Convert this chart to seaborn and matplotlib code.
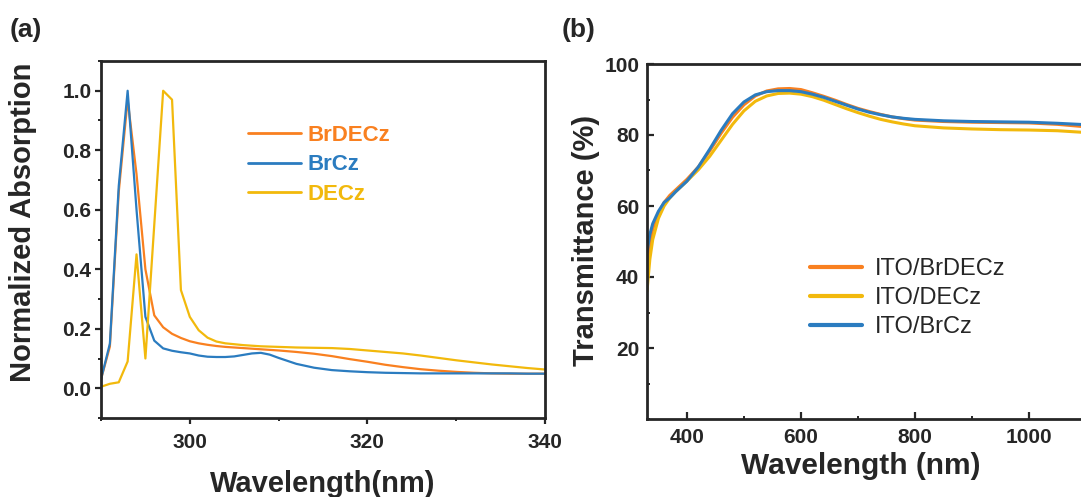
import numpy as np
import pandas as pd
import matplotlib
matplotlib.use("Agg")
import matplotlib.pyplot as plt
from matplotlib.ticker import MultipleLocator
from matplotlib.lines import Line2D
import seaborn as sns

# ---------------- data ----------------
# (a) normalized absorption spectra
wl_a = [290, 291, 292, 293, 294, 295, 296, 297, 298, 299, 300,
        301, 302, 303, 304, 305, 306, 307, 308, 309, 310,
        312, 314, 316, 318, 320, 322, 324, 326, 328, 330,
        332, 334, 336, 338, 340]
abs_brdecz = [0.03, 0.14, 0.66, 0.97, 0.72, 0.40, 0.245, 0.205, 0.183, 0.169, 0.158,
              0.151, 0.146, 0.142, 0.139, 0.137, 0.135, 0.133, 0.131, 0.129, 0.127,
              0.122, 0.116, 0.108, 0.098, 0.089, 0.079, 0.071, 0.064, 0.059, 0.055,
              0.052, 0.050, 0.049, 0.049, 0.049]
abs_brcz = [0.03, 0.15, 0.68, 1.00, 0.60, 0.24, 0.16, 0.134, 0.126, 0.121, 0.117,
            0.110, 0.106, 0.105, 0.105, 0.107, 0.112, 0.117, 0.119, 0.113, 0.102,
            0.082, 0.069, 0.061, 0.057, 0.054, 0.052, 0.051, 0.050, 0.050, 0.050,
            0.050, 0.050, 0.050, 0.049, 0.049]
abs_decz = [0.005, 0.015, 0.02, 0.09, 0.45, 0.10, 0.55, 1.00, 0.97, 0.33, 0.24,
            0.195, 0.17, 0.157, 0.151, 0.148, 0.145, 0.143, 0.141, 0.140, 0.139,
            0.137, 0.136, 0.135, 0.132, 0.127, 0.122, 0.117, 0.110, 0.102, 0.094,
            0.087, 0.080, 0.074, 0.068, 0.063]
names_a = ["BrDECz", "BrCz", "DECz"]

# (b) transmittance spectra of the films on ITO
wl_b = [330, 335, 340, 350, 360, 370, 380, 400, 420, 440, 460, 480, 500,
        520, 540, 560, 580, 600, 620, 640, 660, 680, 700, 720, 740, 760,
        780, 800, 850, 900, 950, 1000, 1050, 1100]
t_brdecz = [43, 49, 53.5, 58, 61, 63, 64.5, 67.5, 71, 75.5, 80.5, 85, 88.5,
            91, 92.4, 93.0, 93.1, 92.8, 91.9, 90.9, 89.8, 88.6, 87.5, 86.6, 85.8, 85.1,
            84.6, 84.2, 83.8, 83.6, 83.5, 83.4, 83.0, 82.3]
t_decz = [36, 45, 50.5, 56.5, 60, 62.3, 64, 67, 70.2, 74, 78.5, 83, 86.8,
          89.5, 91.0, 91.7, 91.8, 91.5, 90.8, 89.8, 88.6, 87.4, 86.3, 85.3, 84.4, 83.7,
          83.1, 82.6, 82.0, 81.7, 81.5, 81.4, 81.2, 80.7]
t_brcz = [47, 52, 55, 58.5, 61, 62.3, 64, 67, 71, 76, 81.3, 86, 89.3,
          91.3, 92.2, 92.5, 92.5, 92.2, 91.5, 90.6, 89.5, 88.4, 87.3, 86.4, 85.7, 85.1,
          84.7, 84.4, 84.0, 83.8, 83.7, 83.6, 83.3, 82.9]
names_b = ["ITO/BrDECz", "ITO/DECz", "ITO/BrCz"]

ORANGE, BLUE, YELLOW = "#F98020", "#2B7CC0", "#F2B90C"

df_a = pd.DataFrame({
    "wl": wl_a * 3,
    "val": abs_brdecz + abs_brcz + abs_decz,
    "sample": sum([[n] * len(wl_a) for n in names_a], []),
})
df_b = pd.DataFrame({
    "wl": wl_b * 3,
    "val": t_brdecz + t_decz + t_brcz,
    "sample": sum([[n] * len(wl_b) for n in names_b], []),
})
pal_a = dict(zip(names_a, [ORANGE, BLUE, YELLOW]))
pal_b = dict(zip(names_b, [ORANGE, YELLOW, BLUE]))

# ---------------- style ----------------
sns.set_theme(style="ticks")
plt.rcParams["font.family"] = ["Liberation Sans", "DejaVu Sans"]
plt.rcParams["axes.linewidth"] = 2.0

W, H = 1081, 497
fig = plt.figure(figsize=(W / 100, H / 100), dpi=100)
ax1 = fig.add_axes([101 / W, 79 / H, 444 / W, 357 / H])
ax2 = fig.add_axes([647 / W, 78 / H, 439 / W, 355 / H])

# ---------------- (a) absorption ----------------
sns.lineplot(data=df_a, x="wl", y="val", hue="sample", palette=pal_a,
             hue_order=names_a, estimator=None, sort=False, lw=1.6,
             legend=False, ax=ax1)
ax1.set_xlim(290, 340)
ax1.set_ylim(-0.1, 1.1)
ax1.xaxis.set_minor_locator(MultipleLocator(10))
ax1.yaxis.set_minor_locator(MultipleLocator(0.1))
ax1.set_xticks([300, 320, 340])
ax1.set_yticks([0.0, 0.2, 0.4, 0.6, 0.8, 1.0])
ax1.tick_params(axis="both", which="major", direction="out", length=4, width=1.6,
                labelsize=15)
ax1.tick_params(axis="both", which="minor", direction="out", length=2.5, width=1.4)
ax1.tick_params(axis="x", which="major", pad=7)
ax1.tick_params(axis="y", which="major", pad=3)
for lab in ax1.get_xticklabels() + ax1.get_yticklabels():
    lab.set_fontweight("bold")
ax1.set_xlabel("Wavelength(nm)", fontsize=21, fontweight="bold")
ax1.set_ylabel("Normalized Absorption", fontsize=21, fontweight="bold")
ax1.xaxis.set_label_coords(0.5, -0.145)
ax1.yaxis.set_label_coords(-0.145, 0.548)

handles_a = [Line2D([], [], color=pal_a[n], lw=2.0) for n in names_a]
ax1.legend(handles_a, names_a, loc="upper left", bbox_to_anchor=(0.305, 0.852),
           frameon=False, borderpad=0, handlelength=2.4, handletextpad=0.3,
           labelspacing=0.38, prop={"size": 16, "weight": "bold"},
           labelcolor="linecolor")

# ---------------- (b) transmittance ----------------
sns.lineplot(data=df_b, x="wl", y="val", hue="sample", palette=pal_b,
             hue_order=names_b, estimator=None, sort=False, lw=2.2,
             legend=False, ax=ax2)
ax2.set_xlim(330, 1100)
ax2.set_ylim(0, 100)
ax2.set_xticks([400, 600, 800, 1000])
ax2.xaxis.set_minor_locator(MultipleLocator(100))
ax2.set_yticks([20, 40, 60, 80, 100])
ax2.yaxis.set_minor_locator(MultipleLocator(10))
ax2.tick_params(axis="both", which="major", direction="in", length=5, width=1.6,
                labelsize=15)
ax2.tick_params(axis="both", which="minor", direction="in", length=2.5, width=1.4)
ax2.tick_params(axis="x", which="major", pad=6.5)
ax2.tick_params(axis="y", which="major", pad=5.5)
for lab in ax2.get_xticklabels() + ax2.get_yticklabels():
    lab.set_fontweight("bold")
ax2.set_xlabel("Wavelength (nm)", fontsize=21.5, fontweight="bold")
ax2.set_ylabel("Transmittance (%)", fontsize=21, fontweight="bold")
ax2.xaxis.set_label_coords(0.487, -0.092)
ax2.yaxis.set_label_coords(-0.107, 0.504)

handles_b = [Line2D([], [], color=pal_b[n], lw=3.0) for n in names_b]
ax2.legend(handles_b, names_b, loc="upper left", bbox_to_anchor=(0.344, 0.487),
           frameon=False, borderpad=0, handlelength=2.2, handletextpad=0.55,
           labelspacing=0.3, prop={"size": 17})

# panel tags
fig.text(10 / W, 1 - 30 / H, "(a)", fontsize=19, fontweight="bold", va="center")
fig.text(562 / W, 1 - 30 / H, "(b)", fontsize=19, fontweight="bold", va="center")

fig.savefig("out.png", dpi=100)
